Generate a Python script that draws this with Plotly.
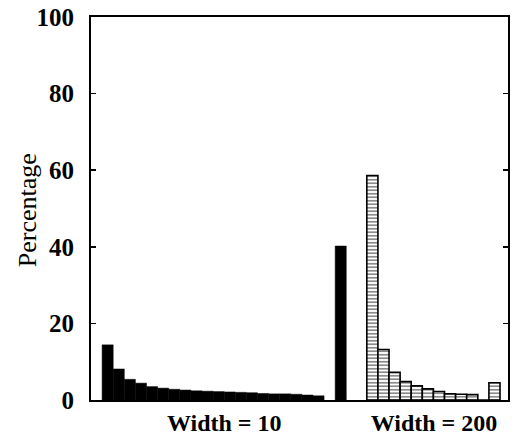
import plotly.graph_objects as go

# ---- data ----
narrow_bins = list(range(1, 21))          # width = 10 bins
narrow_pct = [14.4, 8.1, 5.4, 4.4, 3.5, 3.1, 2.8, 2.6, 2.4, 2.3,
              2.2, 2.1, 2.0, 1.9, 1.7, 1.6, 1.6, 1.5, 1.3, 1.1]
narrow_overflow_pct = [40.2]

wide_bins = list(range(1, 13))            # width = 200 bins
wide_pct = [58.6, 13.2, 7.2, 4.8, 3.7, 2.9, 2.2, 1.6, 1.5, 1.4, 0.0, 4.5]

group_labels = ["Width = 10", "Width = 200"]
y_ticks = [0, 20, 40, 60, 80, 100]

# ---- layout helpers (positions) ----
narrow_x = [b + 0.5 for b in narrow_bins]
overflow_x = [22.5]
wide_start = 24.85
wide_x = [wide_start + (b - 1) + 0.5 for b in wide_bins]
label_x = [12.0, 30.9]

FONT = "Liberation Serif, Times New Roman, serif"

fig = go.Figure()
fig.add_trace(go.Bar(x=narrow_x, y=narrow_pct, width=1.0,
                     marker=dict(color="black", line=dict(color="black", width=0.5)),
                     showlegend=False))
fig.add_trace(go.Bar(x=overflow_x, y=narrow_overflow_pct, width=1.0,
                     marker=dict(color="black", line=dict(color="black", width=0.5)),
                     showlegend=False))
fig.add_trace(go.Bar(x=wide_x, y=wide_pct, width=1.0,
                     marker=dict(color="white",
                                 line=dict(color="black", width=1.6),
                                 pattern=dict(shape="-", fgcolor="black", bgcolor="white",
                                              size=3.5, solidity=0.45)),
                     showlegend=False))

fig.update_layout(
    width=512, height=437,
    margin=dict(l=91, r=4, t=17, b=37),
    paper_bgcolor="white", plot_bgcolor="white",
    bargap=0, barmode="overlay",
    font=dict(family=FONT, color="black", size=22),
    xaxis=dict(range=[0, 37.57], showgrid=False, zeroline=False, automargin=False,
               showline=True, linecolor="black", linewidth=2, mirror=True,
               tickmode="array", tickvals=label_x, ticktext=group_labels,
               ticks="", ticklen=0, ticklabeloverflow="allow",
               tickfont=dict(family=FONT, size=24, color="black", weight="bold")),
    yaxis=dict(range=[0, 100], showgrid=False, zeroline=False, automargin=False,
               showline=True, linecolor="black", linewidth=2, mirror="ticks",
               tickmode="array", tickvals=y_ticks,
               ticks="inside", ticklen=5, tickwidth=1.5, tickcolor="black",
               ticklabelstandoff=10, ticklabeloverflow="allow",
               tickfont=dict(family=FONT, size=25, color="black", weight="bold")),
    annotations=[dict(text="Percentage", xref="paper", yref="paper",
                      x=-0.153, y=0.496, textangle=-90, showarrow=False,
                      xanchor="center", yanchor="middle",
                      font=dict(family=FONT, size=26, color="black"))],
)

# remove the browser's default 8px body margin so the figure fills the window
fig.write_html("out.html",
               config={"displayModeBar": False, "staticPlot": True},
               post_script="document.body.style.margin='0';document.body.style.overflow='hidden';")
